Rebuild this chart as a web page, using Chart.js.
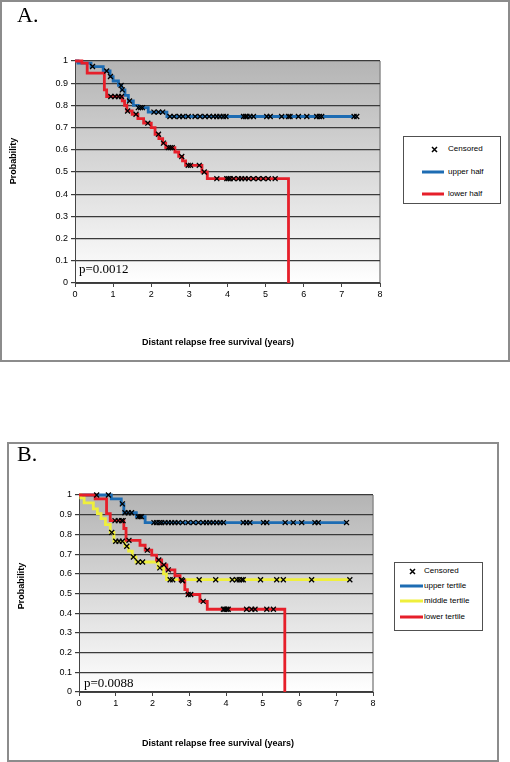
<!DOCTYPE html>
<html lang="en">
<head>
<meta charset="UTF-8">
<title>Distant relapse free survival</title>
<script src="https://cdn.jsdelivr.net/npm/chart.js"></script>
<style>
  body {
    margin: 0;
    width: 510px;
    height: 762px;
    position: relative;
    overflow: hidden;
    background: #fff;
    font-family: 'Liberation Sans', Arial, sans-serif;
    color: #000;
  }
  .frame {
    position: absolute;
    border: 2px solid #8c8c8c;
    box-sizing: border-box;
  }
  canvas { position: absolute; left: 0; }
  .panel-label {
    position: absolute;
    font-family: 'Liberation Serif', 'Times New Roman', serif;
    font-size: 22px;
    line-height: 22px;
  }
  .pval {
    position: absolute;
    font-family: 'Liberation Serif', 'Times New Roman', serif;
    font-size: 13px;
    line-height: 13px;
  }
  .axis-title {
    position: absolute;
    font-weight: bold;
    font-size: 9px;
    line-height: 9px;
    white-space: nowrap;
    transform: translate(-50%, -50%);
  }
  .axis-title.y { transform: translate(-50%, -50%) rotate(-90deg); }
  .legend {
    position: absolute;
    border: 1px solid #505050;
    box-sizing: border-box;
    background: #fff;
    font-size: 8px;
  }
  .legend span {
    position: absolute;
    line-height: 8px;
    white-space: nowrap;
    transform: translateY(-50%);
  }
  .legend .swatch { height: 3px; transform: translateY(-50%); }
  .legend svg { position: absolute; }
</style>
</head>
<body>

<!-- panel A -->
<div class="frame" style="left:0; top:0; width:510px; height:362px;"></div>
<canvas id="chartA" width="510" height="362" style="top:0;"></canvas>
<div class="panel-label" style="left:17px; top:4px;">A.</div>
<div class="pval" style="left:79px; top:262px;">p=0.0012</div>
<div class="axis-title y" style="left:13px; top:161px;">Probability</div>
<div class="axis-title" style="left:218px; top:342px;">Distant relapse free survival (years)</div>
<div class="legend" id="legendA" style="left:403px; top:136px; width:98px; height:68px;"></div>

<!-- panel B -->
<div class="frame" style="left:7px; top:442px; width:492px; height:320px;"></div>
<canvas id="chartB" width="510" height="320" style="top:442px;"></canvas>
<div class="panel-label" style="left:17px; top:443px;">B.</div>
<div class="pval" style="left:84px; top:676px;">p=0.0088</div>
<div class="axis-title y" style="left:21px; top:586px;">Probability</div>
<div class="axis-title" style="left:218px; top:743px;">Distant relapse free survival (years)</div>
<div class="legend" id="legendB" style="left:394px; top:562px; width:89px; height:69px;"></div>

<script>
// ---- panel A: upper / lower half ----
const aUpperTimes = [0, 0.08, 0.42, 0.74, 0.92, 1.0, 1.14, 1.22, 1.31, 1.4, 1.53, 1.66, 1.92, 2.41, 7.4];
const aUpperSurv  = [1, 0.99, 0.975, 0.955, 0.93, 0.91, 0.89, 0.87, 0.845, 0.82, 0.80, 0.79, 0.77, 0.75, 0.75];
const aUpperCensored = [0.46, 0.83, 0.93, 1.21, 1.24, 1.43, 1.66, 1.72, 1.77, 2.07, 2.19, 2.3,
  2.49, 2.6, 2.74, 2.83, 2.97, 3.15, 3.28, 3.41, 3.52, 3.63, 3.72, 3.8, 3.89, 3.96,
  4.42, 4.47, 4.51, 4.59, 4.68, 5.03, 5.12, 5.42, 5.6, 5.64, 5.86, 6.08, 6.34, 6.41, 6.47, 7.32, 7.39];

const aLowerTimes = [0, 0.18, 0.32, 0.77, 0.83, 1.24, 1.3, 1.36, 1.5, 1.65, 1.8, 2.0, 2.1, 2.2, 2.3, 2.38, 2.62, 2.72, 2.82, 2.9, 3.33, 3.47, 5.6];
const aLowerSurv  = [1, 0.99, 0.945, 0.87, 0.84, 0.82, 0.80, 0.775, 0.76, 0.74, 0.72, 0.70, 0.67, 0.65, 0.63, 0.61, 0.59, 0.57, 0.55, 0.53, 0.50, 0.47, 0];
const aLowerCensored = [0.94, 1.05, 1.14, 1.22, 1.38, 1.6, 1.91, 2.19, 2.32, 2.45, 2.5, 2.55, 2.8,
  2.97, 3.03, 3.26, 3.39, 3.72, 3.98, 4.02, 4.07, 4.16, 4.29, 4.37, 4.46, 4.55, 4.68, 4.81, 4.94, 5.07, 5.25];

// ---- panel B: tertiles ----
const bUpperTimes = [0, 0.88, 1.15, 1.22, 1.56, 1.8, 7.3];
const bUpperSurv  = [1, 0.98, 0.955, 0.91, 0.89, 0.86, 0.86];
const bUpperCensored = [0.48, 0.8, 1.18, 1.25, 1.34, 1.43, 1.61, 1.66, 1.7, 2.04, 2.11, 2.19, 2.25,
  2.34, 2.43, 2.52, 2.61, 2.7, 2.82, 2.97, 3.11, 3.25, 3.38, 3.47, 3.56, 3.65, 3.75, 3.84, 3.93,
  4.47, 4.56, 4.65, 5.02, 5.11, 5.61, 5.83, 6.06, 6.42, 6.51, 7.28];

const bMiddleTimes = [0, 0.05, 0.14, 0.39, 0.5, 0.6, 0.72, 0.85, 0.95, 1.25, 1.35, 1.45, 1.55, 2.15, 2.3, 2.38, 7.4];
const bMiddleSurv  = [1, 0.985, 0.96, 0.93, 0.905, 0.88, 0.85, 0.81, 0.765, 0.74, 0.715, 0.685, 0.66, 0.63, 0.60, 0.57, 0.57];
const bMiddleCensored = [0.89, 1.0, 1.09, 1.18, 1.3, 1.48, 1.61, 1.73, 2.2, 2.48, 2.55, 2.79, 3.27,
  3.72, 4.17, 4.29, 4.36, 4.43, 4.47, 4.94, 5.38, 5.56, 6.33, 7.37];

const bLowerTimes = [0, 0.44, 0.75, 0.85, 1.22, 1.28, 1.66, 1.8, 1.98, 2.11, 2.25, 2.39, 2.61, 2.75, 2.88, 2.95, 3.29, 3.49, 5.6];
const bLowerSurv  = [1, 0.98, 0.905, 0.87, 0.83, 0.77, 0.745, 0.72, 0.695, 0.67, 0.645, 0.62, 0.59, 0.565, 0.52, 0.495, 0.46, 0.42, 0];
const bLowerCensored = [0.98, 1.07, 1.16, 1.2, 1.36, 1.86, 2.17, 2.31, 2.43, 2.82, 2.97, 3.04, 3.38,
  3.93, 3.97, 4.02, 4.06, 4.56, 4.7, 4.79, 5.11, 5.29];

const xTicks = [0, 1, 2, 3, 4, 5, 6, 7, 8];
const blue = '#1d6cb3', red = '#e61f2a', yellow = '#efef3c';

// survival level of a group at time t (KM step lookup)
function survivalAt(times, surv, t) {
  let s = surv[0];
  for (let i = 0; i < times.length; i++) {
    if (times[i] <= t) s = surv[i];
  }
  return s;
}

function curve(label, times, surv, color) {
  return {
    label: label,
    data: times.map((t, i) => ({ x: t, y: surv[i] })),
    showLine: true,
    stepped: true,
    borderColor: color,
    borderWidth: 2.8,
    pointRadius: 0,
    fill: false,
    clip: false
  };
}

function censored(groups) {
  const pts = [];
  groups.forEach(g => {
    g.cens.forEach(t => pts.push({ x: t, y: survivalAt(g.times, g.surv, t) }));
  });
  return {
    label: 'Censored',
    data: pts,
    pointStyle: 'crossRot',
    pointRadius: 3.5,
    pointBorderWidth: 1.3,
    pointBorderColor: '#000',
    showLine: false,
    clip: false
  };
}

// grey-to-white fill behind the plot, like the old spreadsheet chart
const plotBackground = {
  id: 'plotBackground',
  beforeDraw(chart) {
    const { ctx, chartArea: { left, top, right, bottom } } = chart;
    const grad = ctx.createLinearGradient(0, top, 0, bottom);
    grad.addColorStop(0, '#b4b4b4');
    grad.addColorStop(1, '#ffffff');
    ctx.save();
    ctx.fillStyle = grad;
    ctx.fillRect(left, top, right - left, bottom - top);
    ctx.strokeStyle = '#8c8c8c';
    ctx.lineWidth = 1.5;
    ctx.beginPath();
    ctx.moveTo(right, top);
    ctx.lineTo(right, bottom);
    ctx.stroke();
    ctx.restore();
  }
};

function buildChart(id, datasets, box) {
  const tickFont = { family: "'Liberation Sans', Arial, sans-serif", size: 9 };
  return new Chart(document.getElementById(id), {
    type: 'scatter',
    data: { datasets: datasets },
    options: {
      responsive: false,
      animation: false,
      layout: { padding: { left: 0, top: box.top, right: box.right, bottom: 0 } },
      plugins: { legend: { display: false }, tooltip: { enabled: false } },
      scales: {
        x: {
          type: 'linear', min: 0, max: 8,
          afterFit: s => { s.height = box.xHeight; },
          afterBuildTicks: s => { s.ticks = xTicks.map(v => ({ value: v })); },
          ticks: { font: tickFont, color: '#000', padding: 2 },
          grid: { drawOnChartArea: false, tickLength: 4, color: '#444' },
          border: { color: '#444', width: 1 }
        },
        y: {
          min: 0, max: 1,
          afterFit: s => { s.width = box.yWidth; },
          ticks: {
            stepSize: 0.1, font: tickFont, color: '#000', padding: 3,
            callback: v => String(Number(v.toFixed(1)))
          },
          grid: { color: '#3a3a3a', lineWidth: 1.2, tickLength: 4 },
          border: { color: '#444', width: 1 }
        }
      }
    },
    plugins: [plotBackground]
  });
}

buildChart('chartA', [
  censored([
    { times: aUpperTimes, surv: aUpperSurv, cens: aUpperCensored },
    { times: aLowerTimes, surv: aLowerSurv, cens: aLowerCensored }
  ]),
  curve('lower half', aLowerTimes, aLowerSurv, red),
  curve('upper half', aUpperTimes, aUpperSurv, blue)
], { top: 61, right: 130, xHeight: 79, yWidth: 75 });

buildChart('chartB', [
  censored([
    { times: bUpperTimes, surv: bUpperSurv, cens: bUpperCensored },
    { times: bMiddleTimes, surv: bMiddleSurv, cens: bMiddleCensored },
    { times: bLowerTimes, surv: bLowerSurv, cens: bLowerCensored }
  ]),
  curve('lower tertile', bLowerTimes, bLowerSurv, red),
  curve('middle tertile', bMiddleTimes, bMiddleSurv, yellow),
  curve('upper tertile', bUpperTimes, bUpperSurv, blue)
], { top: 53, right: 137, xHeight: 70, yWidth: 79 });

// html legends
const crossSvg = '<svg width="7" height="7" viewBox="0 0 7 7"><path d="M1 1L6 6M6 1L1 6" stroke="#000" stroke-width="1.5"/></svg>';

function buildLegend(id, items, layout) {
  const el = document.getElementById(id);
  items.forEach((it, i) => {
    const y = layout.y[i];
    if (it.cross) {
      const holder = document.createElement('div');
      holder.innerHTML = crossSvg;
      const svg = holder.firstChild;
      svg.style.left = (layout.crossX - 3.5) + 'px';
      svg.style.top = (y - 3.5) + 'px';
      el.appendChild(svg);
    } else {
      const sw = document.createElement('span');
      sw.className = 'swatch';
      sw.style.left = layout.lineX0 + 'px';
      sw.style.width = (layout.lineX1 - layout.lineX0) + 'px';
      sw.style.top = y + 'px';
      sw.style.background = it.color;
      el.appendChild(sw);
    }
    const tx = document.createElement('span');
    tx.textContent = it.label;
    tx.style.left = layout.textX + 'px';
    tx.style.top = y + 'px';
    el.appendChild(tx);
  });
}

buildLegend('legendA', [
  { label: 'Censored', cross: true },
  { label: 'upper half', color: blue },
  { label: 'lower half', color: red }
], { y: [12, 35, 57], crossX: 30, lineX0: 18, lineX1: 40, textX: 44 });

buildLegend('legendB', [
  { label: 'Censored', cross: true },
  { label: 'upper tertile', color: blue },
  { label: 'middle tertile', color: yellow },
  { label: 'lower tertile', color: red }
], { y: [8, 23, 38, 54], crossX: 17, lineX0: 5, lineX1: 28, textX: 29 });
</script>
</body>
</html>
